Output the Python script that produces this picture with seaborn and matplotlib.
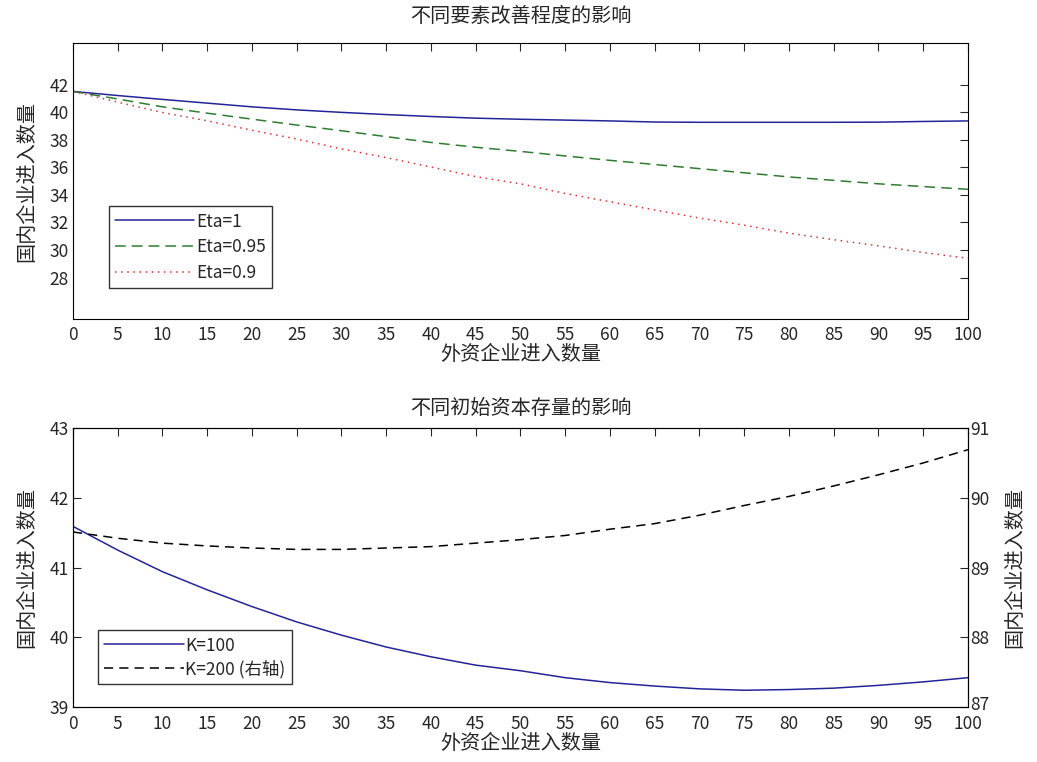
import matplotlib

matplotlib.use("Agg")
import matplotlib.pyplot as plt
import matplotlib.transforms as mtransforms
import numpy as np
import seaborn as sns

# 外资企业进入数量 (x axis)
x_entries = [0, 5, 10, 15, 20, 25, 30, 35, 40, 45, 50,
             55, 60, 65, 70, 75, 80, 85, 90, 95, 100]

# top panel: different Eta
eta_1 = [41.50, 41.20, 40.92, 40.65, 40.38, 40.16, 39.98, 39.82, 39.68, 39.56, 39.48,
         39.42, 39.36, 39.28, 39.26, 39.26, 39.26, 39.26, 39.27, 39.32, 39.36]
eta_095 = [41.50, 40.95, 40.38, 39.92, 39.49, 39.06, 38.65, 38.22, 37.80, 37.45, 37.15,
           36.82, 36.50, 36.20, 35.90, 35.60, 35.30, 35.05, 34.80, 34.60, 34.40]
eta_09 = [41.50, 40.72, 39.97, 39.37, 38.68, 38.05, 37.33, 36.70, 36.02, 35.32, 34.80,
          34.10, 33.50, 32.90, 32.32, 31.80, 31.22, 30.75, 30.30, 29.82, 29.40]

# bottom panel: different initial capital stock
k_100 = [41.59, 41.25, 40.94, 40.68, 40.44, 40.22, 40.03, 39.86, 39.72, 39.60, 39.52,
         39.42, 39.35, 39.30, 39.26, 39.24, 39.25, 39.27, 39.31, 39.36, 39.42]
k_200 = [89.51, 89.42, 89.35, 89.31, 89.28, 89.26, 89.26, 89.28, 89.30, 89.35, 89.40,
         89.46, 89.55, 89.63, 89.75, 89.89, 90.02, 90.17, 90.33, 90.50, 90.69]

x_ticks = list(range(0, 101, 5))
top_yticks = [28, 30, 32, 34, 36, 38, 40, 42]
left_yticks = [39, 40, 41, 42, 43]
right_yticks = [87, 88, 89, 90, 91]

sns.set_style("white")
plt.rcParams["font.family"] = ["Noto Sans CJK SC", "DejaVu Sans"]
plt.rcParams["xtick.direction"] = "in"
plt.rcParams["ytick.direction"] = "in"

fig = plt.figure(figsize=(10.37, 7.62), dpi=100)
ax1 = fig.add_axes([0.0704, 0.5814, 0.863, 0.362])
ax2 = fig.add_axes([0.0704, 0.0722, 0.863, 0.366])

TICK_FS = 12.5
LABEL_FS = 14.5
TITLE_FS = 14.5
LEG_FS = 12.5
ylabel = "国内企业进入数量"
xlabel = "外资企业进入数量"
blue = "#24249a"

sns.lineplot(x=x_entries, y=eta_1, ax=ax1, color=blue, lw=1.1, label="Eta=1")
sns.lineplot(x=x_entries, y=eta_095, ax=ax1, color="#2e7d2e", lw=1.1,
             linestyle=(0, (7, 4)), label="Eta=0.95")
sns.lineplot(x=x_entries, y=eta_09, ax=ax1, color="#e03030", lw=1.1,
             linestyle=(0, (1, 3)), label="Eta=0.9")
ax1.set_xlim(0, 100)
ax1.set_ylim(25, 45)
ax1.set_xticks(x_ticks)
ax1.set_yticks(top_yticks)
ax1.set_title("不同要素改善程度的影响", fontsize=TITLE_FS, pad=15)
ax1.set_xlabel(xlabel, fontsize=LABEL_FS, labelpad=0)
ax1.set_ylabel(ylabel, fontsize=LABEL_FS, labelpad=9)
ax1.tick_params(labelsize=TICK_FS, top=True, right=True, length=6, pad=3)
ax1.tick_params(axis="x", pad=5)
ax1.legend(loc="lower left", bbox_to_anchor=(0.03, 0.08), fontsize=LEG_FS,
           handlelength=4.6, frameon=True, fancybox=False, edgecolor="black",
           borderpad=0.35, labelspacing=0.45, handletextpad=0.1)

sns.lineplot(x=x_entries, y=k_100, ax=ax2, color=blue, lw=1.1, legend=False)
ax2.set_xlim(0, 100)
ax2.set_ylim(39, 43)
ax2.set_xticks(x_ticks)
ax2.set_yticks(left_yticks)
ax2.set_title("不同初始资本存量的影响", fontsize=TITLE_FS, pad=10)
ax2.set_xlabel(xlabel, fontsize=LABEL_FS, labelpad=0)
ax2.set_ylabel(ylabel, fontsize=LABEL_FS, labelpad=9)
ax2.tick_params(labelsize=TICK_FS, top=True, length=6, pad=3)
ax2.tick_params(axis="x", pad=6)

ax3 = ax2.twinx()
sns.lineplot(x=x_entries, y=k_200, ax=ax3, color="black", lw=1.1,
             linestyle=(0, (6, 4)), legend=False)
ax3.set_ylim(87, 91)
ax3.set_yticks(right_yticks)
ax3.set_ylabel(ylabel, fontsize=LABEL_FS, labelpad=10)
ax3.tick_params(labelsize=TICK_FS, length=6, pad=2)
# lift the bottom-right label a little so it clears the "100" below it
lift = mtransforms.ScaledTranslation(0, 4 / 100, fig.dpi_scale_trans)
ax3.get_yticklabels()[0].set_transform(ax3.get_yticklabels()[0].get_transform() + lift)

handles = [ax2.get_lines()[0], ax3.get_lines()[0]]
ax2.legend(handles, ["K=100", "K=200 (右轴)"], loc="lower left",
           bbox_to_anchor=(0.018, 0.05), fontsize=LEG_FS, handlelength=4.6,
           frameon=True, fancybox=False, edgecolor="black",
           borderpad=0.35, labelspacing=0.3, handletextpad=0.1)

for ax in (ax1, ax2, ax3):
    for s in ax.spines.values():
        s.set_color("black")
        s.set_linewidth(0.8)

fig.savefig("out.png", dpi=100)
